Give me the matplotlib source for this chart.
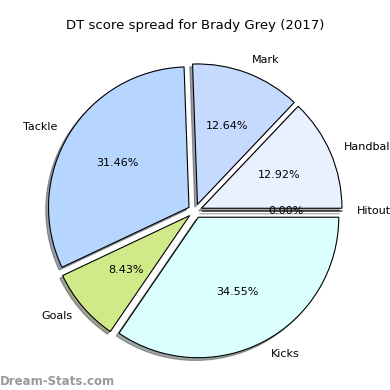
import matplotlib
matplotlib.use('Agg')
from matplotlib import pyplot as plt

# DT score spread data
labels = ['Hitout', 'Handball', 'Mark', 'Tackle', 'Goals', 'Kicks']
values = [0.00, 12.92, 12.64, 31.46, 8.43, 34.55]
colors = ['#f4f4ff', '#e9f0ff', '#c6d9ff', '#b6d6ff', '#d0ea8a', '#dbffff']
explode = [0.05] * len(values)

fig = plt.figure(figsize=(3.9, 3.9), dpi=100)
ax = fig.add_axes([0, 0, 1, 1])

wedges, texts, autotexts = ax.pie(values, labels=labels, colors=colors, explode=explode,
                                  autopct='%.2f%%', shadow={'ox': -0.014, 'oy': -0.014},
                                  startangle=0,
                                  wedgeprops={'edgecolor': 'black', 'linewidth': 0.8},
                                  textprops={'fontsize': 8})

ax.set_aspect('equal')
ax.set_xlim(-1.388, 1.388)
ax.set_ylim(-1.274, 1.502)
ax.axis('off')

fig.text(0.5, 1 - 25 / 390, 'DT score spread for Brady Grey (2017)', ha='center', va='center', fontsize=9.5)
fig.text(0.0, 0.005, 'Dream-Stats.com', color='#999999', fontsize=8.5, fontweight='bold',
         ha='left', va='bottom')

plt.savefig('out.png', dpi=100)
